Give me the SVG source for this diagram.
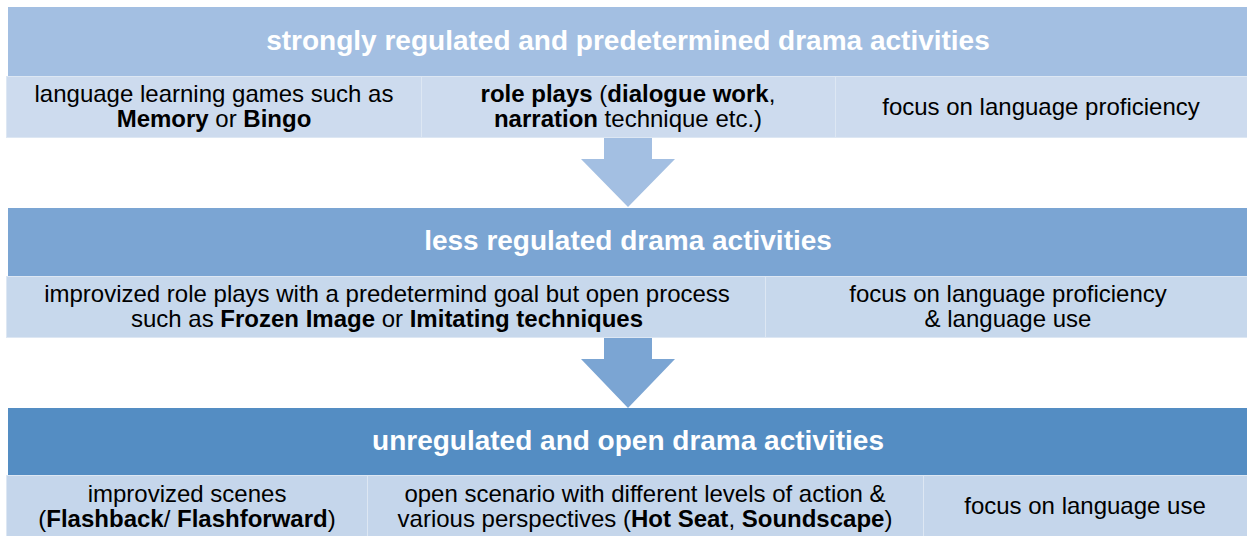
<svg xmlns="http://www.w3.org/2000/svg" width="1247" height="536" viewBox="0 0 1247 536">
<style>
.title{font-family:"Liberation Sans",Arial,sans-serif;font-weight:bold;font-size:28px;fill:#ffffff;text-anchor:middle}
.body{font-family:"Liberation Sans",Arial,sans-serif;font-size:24px;fill:#000000;text-anchor:middle}
.b{font-weight:bold}
.cell{stroke:#dde7f3;stroke-width:1}
</style>
<rect width="1247" height="536" fill="#ffffff"/>
<g id="connectors">
<polygon points="604,138 652,138 652,159 675,159 628,207 581,159 604,159" fill="#a3bfe2"/>
<polygon points="604,338 652,338 652,359 675,359 628,408 581,359 604,359" fill="#7ba5d3"/>
</g>
<g id="level1">
<rect x="8" y="7" width="1239" height="69" fill="#a3bfe2"/>
<text class="title" x="628" y="50">strongly regulated and predetermined drama activities</text>
</g>
<g id="level1-games">
<rect class="cell" x="6.5" y="76.5" width="415" height="61" fill="#cddbee"/>
<text class="body" x="214" y="102">language learning games such as</text>
<text class="body" x="214" y="127"><tspan class="b">Memory</tspan> or <tspan class="b">Bingo</tspan></text>
</g>
<g id="level1-roleplays">
<rect class="cell" x="421.5" y="76.5" width="414" height="61" fill="#cddbee"/>
<text class="body" x="628" y="102"><tspan class="b">role plays</tspan> (<tspan class="b">dialogue work</tspan>,</text>
<text class="body" x="628" y="127"><tspan class="b">narration</tspan> technique etc.)</text>
</g>
<g id="level1-focus">
<rect class="cell" x="835.5" y="76.5" width="412" height="61" fill="#cddbee"/>
<text class="body" x="1041" y="115">focus on language proficiency</text>
</g>
<g id="level2">
<rect x="8" y="208" width="1239" height="68" fill="#7ba5d3"/>
<text class="title" x="628" y="250">less regulated drama activities</text>
</g>
<g id="level2-improv">
<rect class="cell" x="6.5" y="276.5" width="759" height="61" fill="#c7d8ec"/>
<text class="body" x="387" y="302">improvized role plays with a predetermind goal but open process</text>
<text class="body" x="387" y="327">such as <tspan class="b">Frozen Image</tspan> or <tspan class="b">Imitating techniques</tspan></text>
</g>
<g id="level2-focus">
<rect class="cell" x="765.5" y="276.5" width="482" height="61" fill="#c7d8ec"/>
<text class="body" x="1008" y="302">focus on language proficiency</text>
<text class="body" x="1008" y="327">&amp; language use</text>
</g>
<g id="level3">
<rect x="8" y="408" width="1239" height="67" fill="#548dc3"/>
<text class="title" x="628" y="450">unregulated and open drama activities</text>
</g>
<g id="level3-scenes">
<rect class="cell" x="6.5" y="475.5" width="361" height="62" fill="#c5d6eb"/>
<text class="body" x="187" y="502">improvized scenes</text>
<text class="body" x="187" y="527">(<tspan class="b">Flashback</tspan>/ <tspan class="b">Flashforward</tspan>)</text>
</g>
<g id="level3-scenario">
<rect class="cell" x="367.5" y="475.5" width="556" height="62" fill="#c5d6eb"/>
<text class="body" x="645" y="502">open scenario with different levels of action &amp;</text>
<text class="body" x="645" y="527">various perspectives (<tspan class="b">Hot Seat</tspan>, <tspan class="b">Soundscape</tspan>)</text>
</g>
<g id="level3-focus">
<rect class="cell" x="923.5" y="475.5" width="324" height="62" fill="#c5d6eb"/>
<text class="body" x="1085" y="514">focus on language use</text>
</g>
</svg>
